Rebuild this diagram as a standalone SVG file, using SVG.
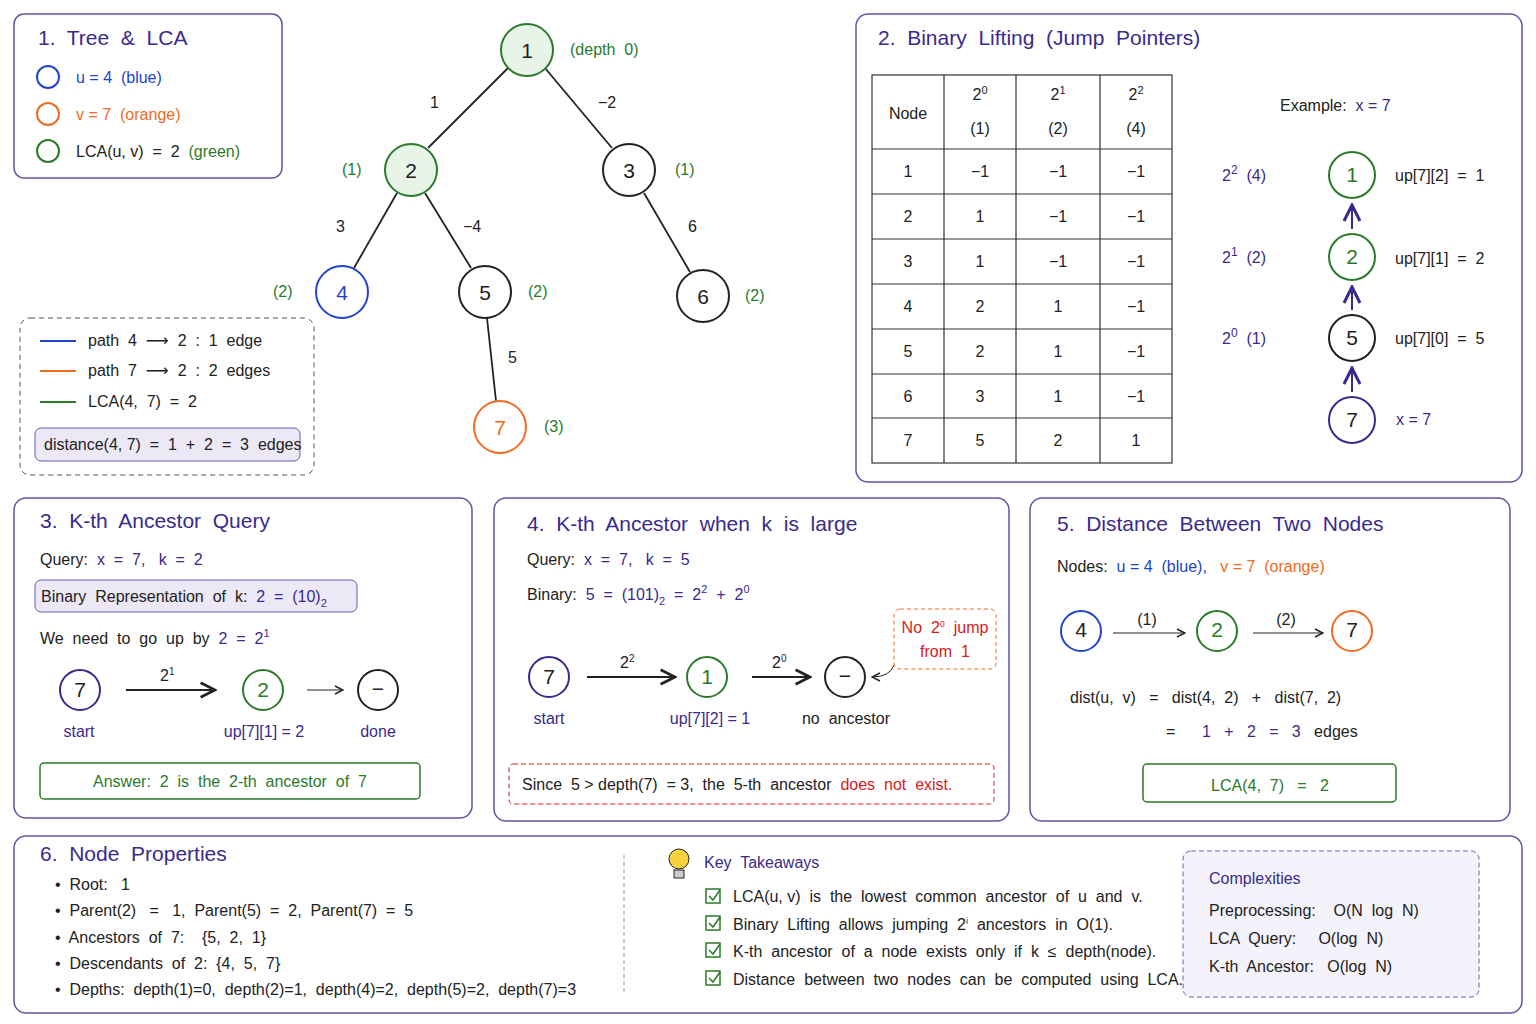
<svg xmlns="http://www.w3.org/2000/svg" width="1536" height="1024" viewBox="0 0 1536 1024">
<style>
text{font-family:"Liberation Sans","DejaVu Sans",sans-serif;font-size:16px;fill:#222;white-space:pre}
.t{font-size:21px;fill:#3a2a8c}
.pn{fill:none;stroke:#5a56a8;stroke-width:1.5}
.n{fill:#fff;stroke:#222;stroke-width:2}
.g{fill:#e9f4e9;stroke:#2a7a2a;stroke-width:2}
.gn{fill:#fff;stroke:#2a7a2a;stroke-width:2}
.b{fill:#fff;stroke:#2244cc;stroke-width:2}
.o{fill:#fff;stroke:#f06a20;stroke-width:2}
.p{fill:#fff;stroke:#3a2a8c;stroke-width:2}
.nt{font-size:21px;text-anchor:middle}
.gr{fill:#2a7a2a}.bl{fill:#2244cc}.or{fill:#f06a20}.pu{fill:#3a2a8c}.rd{fill:#d42020}
.e{stroke:#222;stroke-width:1.8}
.c{text-anchor:middle}
.tb{stroke:#333;stroke-width:1.2;fill:none}
</style>
<defs><marker id="a" markerWidth="10" markerHeight="10" refX="9" refY="5" orient="auto"><path d="M1,1 L9,5 L1,9" fill="none" stroke="#222" stroke-width="1.5"/></marker>
<marker id="ap" markerWidth="10" markerHeight="10" refX="9" refY="5" orient="auto"><path d="M1,1 L9,5 L1,9" fill="none" stroke="#3a2a8c" stroke-width="1.5"/></marker></defs>
<rect width="1536" height="1024" fill="#fff"/>
<g id="p1"><rect class="pn" x="14" y="14" width="268" height="164" rx="10" stroke="#4a6ab0"/>
<text class="t" x="38" y="45">1.  Tree  &amp;  LCA</text>
<circle cx="48" cy="77" r="11" class="b"/><text x="76" y="83" class="bl">u = 4  (blue)</text>
<circle cx="48" cy="114" r="11" class="o"/><text x="76" y="120" class="or">v = 7  (orange)</text>
<circle cx="48" cy="151" r="11" class="gn"/><text x="76" y="157">LCA(u, v)  =  2  <tspan class="gr">(green)</tspan></text></g>
<g id="connectors">
<line class="e" x1="508" y1="68" x2="428" y2="148"/><line class="e" x1="545" y1="68" x2="612" y2="148"/>
<line class="e" x1="397" y1="193" x2="354" y2="268"/><line class="e" x1="425" y1="193" x2="471" y2="268"/>
<line class="e" x1="644" y1="193" x2="690" y2="272"/><line class="e" x1="487" y1="318" x2="496" y2="401"/>
</g>
<text x="430" y="108">1</text><text x="598" y="108">−2</text><text x="336" y="232">3</text><text x="463" y="232">−4</text><text x="688" y="232">6</text><text x="508" y="363">5</text>
<g id="n1"><circle cx="527" cy="50" r="26" class="g"/><text x="527" y="58" class="nt">1</text><text x="570" y="55" class="gr">(depth  0)</text></g>
<g id="n2"><circle cx="411" cy="170" r="26" class="g"/><text x="411" y="178" class="nt">2</text><text x="342" y="175" class="gr">(1)</text></g>
<g id="n3"><circle cx="629" cy="170" r="26" class="n"/><text x="629" y="178" class="nt">3</text><text x="675" y="175" class="gr">(1)</text></g>
<g id="n4"><circle cx="342" cy="292" r="26" class="b"/><text x="342" y="300" class="nt bl">4</text><text x="273" y="297" class="gr">(2)</text></g>
<g id="n5"><circle cx="485" cy="292" r="26" class="n"/><text x="485" y="300" class="nt">5</text><text x="528" y="297" class="gr">(2)</text></g>
<g id="n6"><circle cx="703" cy="296" r="26" class="n"/><text x="703" y="304" class="nt">6</text><text x="745" y="301" class="gr">(2)</text></g>
<g id="n7"><circle cx="500" cy="427" r="26" class="o"/><text x="500" y="435" class="nt or">7</text><text x="544" y="432" class="gr">(3)</text></g>
<g id="legend"><rect x="20" y="318" width="294" height="157" rx="10" fill="none" stroke="#555" stroke-dasharray="5,4"/>
<line x1="40" y1="341" x2="76" y2="341" stroke="#2244cc" stroke-width="2"/><text x="88" y="346" font-size="14">path  4  ⟶  2  :  1  edge</text>
<line x1="40" y1="371" x2="76" y2="371" stroke="#f06a20" stroke-width="2"/><text x="88" y="376" font-size="14">path  7  ⟶  2  :  2  edges</text>
<line x1="40" y1="402" x2="76" y2="402" stroke="#2a7a2a" stroke-width="2"/><text x="88" y="407" font-size="14">LCA(4,  7)  =  2</text>
<rect x="35" y="428" width="265" height="33" rx="6" fill="#ece8f6" stroke="#6a5ab0"/><text x="44" y="450" font-size="13">distance(4, 7)  =  1  +  2  =  3  edges</text></g>
<g id="p2"><rect class="pn" x="856" y="14" width="666" height="468" rx="12"/>
<text class="t" x="878" y="45">2.  Binary  Lifting  (Jump  Pointers)</text>
<rect class="tb" x="872" y="75" width="300" height="388"/>
<path class="tb" d="M944,75V463M1016,75V463M1100,75V463M872,149H1172M872,194H1172M872,239H1172M872,284H1172M872,329H1172M872,374H1172M872,418H1172"/>
<g class="c"><text x="908" y="119" class="c">Node</text><text x="980" y="100" class="c">2<tspan dy="-6" font-size="11">0</tspan></text><text x="980" y="134" class="c">(1)</text>
<text x="1058" y="100" class="c">2<tspan dy="-6" font-size="11">1</tspan></text><text x="1058" y="134" class="c">(2)</text>
<text x="1136" y="100" class="c">2<tspan dy="-6" font-size="11">2</tspan></text><text x="1136" y="134" class="c">(4)</text>
<text x="908" y="177">1</text><text x="980" y="177">−1</text><text x="1058" y="177">−1</text><text x="1136" y="177">−1</text>
<text x="908" y="222">2</text><text x="980" y="222">1</text><text x="1058" y="222">−1</text><text x="1136" y="222">−1</text>
<text x="908" y="267">3</text><text x="980" y="267">1</text><text x="1058" y="267">−1</text><text x="1136" y="267">−1</text>
<text x="908" y="312">4</text><text x="980" y="312">2</text><text x="1058" y="312">1</text><text x="1136" y="312">−1</text>
<text x="908" y="357">5</text><text x="980" y="357">2</text><text x="1058" y="357">1</text><text x="1136" y="357">−1</text>
<text x="908" y="402">6</text><text x="980" y="402">3</text><text x="1058" y="402">1</text><text x="1136" y="402">−1</text>
<text x="908" y="446">7</text><text x="980" y="446">5</text><text x="1058" y="446">2</text><text x="1136" y="446">1</text></g>
<text x="1280" y="111">Example:  <tspan class="pu">x = 7</tspan></text>
<text x="1222" y="181" class="pu" font-size="19">2<tspan dy="-7" font-size="12">2</tspan><tspan dy="7">  (4)</tspan></text>
<text x="1222" y="263" class="pu" font-size="19">2<tspan dy="-7" font-size="12">1</tspan><tspan dy="7">  (2)</tspan></text>
<text x="1222" y="344" class="pu" font-size="19">2<tspan dy="-7" font-size="12">0</tspan><tspan dy="7">  (1)</tspan></text>
<circle cx="1352" cy="175" r="23" class="gn"/><text x="1352" y="182" class="nt gr" font-size="19">1</text>
<circle cx="1352" cy="257" r="23" class="gn"/><text x="1352" y="264" class="nt gr" font-size="19">2</text>
<circle cx="1352" cy="338" r="23" class="n"/><text x="1352" y="345" class="nt" font-size="19">5</text>
<circle cx="1352" cy="420" r="23" class="p"/><text x="1352" y="427" class="nt" font-size="19">7</text>
<line x1="1352" y1="392" x2="1352" y2="368" stroke="#3a2a8c" stroke-width="2" marker-end="url(#ap)"/>
<line x1="1352" y1="310" x2="1352" y2="287" stroke="#3a2a8c" stroke-width="2" marker-end="url(#ap)"/>
<line x1="1352" y1="229" x2="1352" y2="205" stroke="#3a2a8c" stroke-width="2" marker-end="url(#ap)"/>
<text x="1395" y="181">up[7][2]  =  1</text><text x="1395" y="264">up[7][1]  =  2</text><text x="1395" y="344">up[7][0]  =  5</text><text x="1396" y="425" class="pu">x = 7</text></g>
<g id="p3"><rect class="pn" x="14" y="498" width="458" height="320" rx="12"/>
<text class="t" x="40" y="528">3.  K-th  Ancestor  Query</text>
<text x="40" y="565" font-size="18">Query:  <tspan class="pu">x  =  7,   k  =  2</tspan></text>
<rect x="35" y="580" width="322" height="32" rx="6" fill="#ece8f6" stroke="#6a5ab0"/>
<text x="41" y="602" font-size="16">Binary  Representation  of  k:  <tspan class="pu">2  =  (10)<tspan dy="5" font-size="11">2</tspan></tspan></text>
<text x="40" y="644" font-size="18">We  need  to  go  up  by  <tspan class="pu">2  =  2<tspan dy="-7" font-size="11">1</tspan></tspan></text>
<circle cx="80" cy="690" r="20" class="p"/><text x="80" y="697" class="nt" font-size="18">7</text>
<line x1="126" y1="690" x2="215" y2="690" class="e" marker-end="url(#a)"/><text x="160" y="681">2<tspan dy="-6" font-size="10">1</tspan></text>
<circle cx="263" cy="690" r="20" class="gn"/><text x="263" y="697" class="nt gr" font-size="18">2</text>
<line x1="307" y1="690" x2="343" y2="690" stroke="#222" marker-end="url(#a)"/>
<circle cx="378" cy="690" r="20" class="n" stroke-width="1.5"/><text x="378" y="696" class="nt" font-size="18">−</text>
<text x="79" y="737" class="c pu" font-size="15">start</text><text x="264" y="737" class="c pu" font-size="15">up[7][1] = 2</text><text x="378" y="737" class="c pu" font-size="15">done</text>
<rect x="40" y="763" width="380" height="36" rx="4" fill="none" stroke="#2a7a2a" stroke-width="1.5"/>
<text x="230" y="787" class="c gr">Answer:  2  is  the  2-th  ancestor  of  7</text></g>
<g id="p4"><rect class="pn" x="494" y="498" width="515" height="323" rx="12"/>
<text class="t" x="527" y="531">4.  K-th  Ancestor  when  k  is  large</text>
<text x="527" y="565" font-size="18">Query:  <tspan class="pu">x  =  7,   k  =  5</tspan></text>
<text x="527" y="600" font-size="18">Binary:  <tspan class="pu">5  =  (101)<tspan dy="5" font-size="11">2</tspan><tspan dy="-5">  =  2</tspan><tspan dy="-7" font-size="11">2</tspan><tspan dy="7">  +  2</tspan><tspan dy="-7" font-size="11">0</tspan></tspan></text>
<circle cx="549" cy="677" r="20" class="p"/><text x="549" y="684" class="nt" font-size="18">7</text>
<line x1="587" y1="677" x2="675" y2="677" class="e" marker-end="url(#a)"/><text x="620" y="668">2<tspan dy="-6" font-size="10">2</tspan></text>
<circle cx="707" cy="677" r="20" class="gn"/><text x="707" y="684" class="nt gr" font-size="18">1</text>
<line x1="752" y1="677" x2="810" y2="677" class="e" marker-end="url(#a)"/><text x="772" y="668">2<tspan dy="-6" font-size="10">0</tspan></text>
<circle cx="845" cy="677" r="20" class="n" stroke-width="1.5"/><text x="845" y="683" class="nt" font-size="18">−</text>
<rect x="894" y="609" width="102" height="60" rx="6" fill="none" stroke="#f06a20" stroke-dasharray="4,3"/>
<text x="945" y="633" class="c rd" font-size="14">No  2<tspan dy="-6" font-size="9">0</tspan><tspan dy="6">  jump</tspan></text><text x="945" y="657" class="c rd" font-size="14">from  1</text>
<path d="M894,665 Q890,677 872,677" fill="none" stroke="#222" marker-end="url(#a)"/>
<text x="549" y="724" class="c pu" font-size="15">start</text><text x="710" y="724" class="c pu" font-size="15">up[7][2] = 1</text><text x="846" y="724" class="c" font-size="15">no  ancestor</text>
<rect x="509" y="764" width="485" height="40" rx="4" fill="none" stroke="#d42020" stroke-dasharray="5,3"/>
<text x="522" y="790" font-size="15">Since  5 &gt; depth(7)  = 3,  the  5-th  ancestor  <tspan class="rd">does  not  exist.</tspan></text></g>
<g id="p5"><rect class="pn" x="1030" y="498" width="480" height="323" rx="12"/>
<text class="t" x="1057" y="531">5.  Distance  Between  Two  Nodes</text>
<text x="1057" y="572" font-size="17">Nodes:  <tspan class="bl">u = 4  (blue),</tspan>   <tspan class="or">v = 7  (orange)</tspan></text>
<circle cx="1081" cy="631" r="20" class="b"/><text x="1081" y="637" class="nt" font-size="16">4</text>
<line x1="1113" y1="633" x2="1185" y2="633" stroke="#222" marker-end="url(#a)"/><text x="1147" y="625" class="c" font-size="12">(1)</text>
<circle cx="1217" cy="631" r="20" class="gn"/><text x="1217" y="637" class="nt gr" font-size="16">2</text>
<line x1="1253" y1="633" x2="1323" y2="633" stroke="#222" marker-end="url(#a)"/><text x="1286" y="625" class="c" font-size="12">(2)</text>
<circle cx="1352" cy="631" r="20" class="o"/><text x="1352" y="637" class="nt" font-size="16">7</text>
<text x="1070" y="703" font-size="18">dist(u,  v)   =   dist(4,  2)   +   dist(7,  2)</text>
<text x="1166" y="737" font-size="18">=      <tspan class="pu">1   +   2   =   3</tspan>   edges</text>
<rect x="1143" y="764" width="253" height="38" rx="4" fill="none" stroke="#2a7a2a" stroke-width="1.5"/>
<text x="1270" y="791" class="c gr" font-size="20">LCA(4,  7)   =   2</text></g>
<g id="p6"><rect class="pn" x="14" y="836" width="1508" height="177" rx="12"/>
<text class="t" x="40" y="861">6.  Node  Properties</text>
<text x="55" y="890" font-size="14">•  Root:   1</text>
<text x="55" y="916" font-size="14">•  Parent(2)   =   1,  Parent(5)  =  2,  Parent(7)  =  5</text>
<text x="55" y="943" font-size="14">•  Ancestors  of  7:    {5,  2,  1}</text>
<text x="55" y="969" font-size="14">•  Descendants  of  2:  {4,  5,  7}</text>
<text x="55" y="995" font-size="13">•  Depths:  depth(1)=0,  depth(2)=1,  depth(4)=2,  depth(5)=2,  depth(7)=3</text>
<line x1="624" y1="855" x2="624" y2="995" stroke="#999" stroke-dasharray="4,3"/>
<circle cx="679" cy="859" r="10" fill="#f7d23a" stroke="#222"/><rect x="674" y="870" width="10" height="8" fill="#ccc" stroke="#222"/>
<text x="704" y="868" class="pu" font-size="18">Key  Takeaways</text>
<g fill="none" stroke="#2a7a2a" stroke-width="1.5"><rect x="706" y="889" width="14" height="14"/><rect x="706" y="916" width="14" height="14"/><rect x="706" y="943" width="14" height="14"/><rect x="706" y="971" width="14" height="14"/>
<path d="M709,896l4,4l7,-10M709,923l4,4l7,-10M709,950l4,4l7,-10M709,978l4,4l7,-10"/></g>
<text x="733" y="902" font-size="13">LCA(u, v)  is  the  lowest  common  ancestor  of  u  and  v.</text>
<text x="733" y="930" font-size="13">Binary  Lifting  allows  jumping  2<tspan dy="-6" font-size="9">i</tspan><tspan dy="6">  ancestors  in  O(1).</tspan></text>
<text x="733" y="957" font-size="13">K-th  ancestor  of  a  node  exists  only  if  k  ≤  depth(node).</text>
<text x="733" y="985" font-size="13">Distance  between  two  nodes  can  be  computed  using  LCA.</text>
<rect x="1183" y="851" width="296" height="146" rx="8" fill="#f4f2fa" stroke="#6a5ab0" stroke-dasharray="5,3"/>
<text x="1209" y="884" class="pu">Complexities</text>
<text x="1209" y="916" font-size="15">Preprocessing:    O(N  log  N)</text>
<text x="1209" y="944" font-size="15">LCA  Query:     O(log  N)</text>
<text x="1209" y="972" font-size="15">K-th  Ancestor:   O(log  N)</text></g>
</svg>
